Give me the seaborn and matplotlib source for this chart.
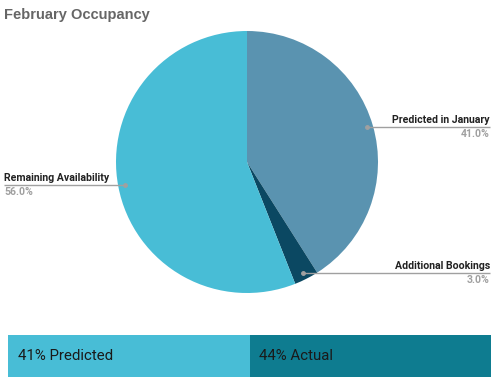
import numpy as np
import matplotlib
matplotlib.use("Agg")
import matplotlib.pyplot as plt
import seaborn as sns

title = "February Occupancy"
categories = ["Predicted in January", "Additional Bookings", "Remaining Availability"]
values = [41.0, 3.0, 56.0]
colors = ["#5A93B0", "#0B4862", "#48BDD6"]
summary_labels = ["41% Predicted", "44% Actual"]
summary_colors = ["#48BDD6", "#0E7C90"]

sns.set_theme(style="white")
plt.rcParams['font.family'] = ['Roboto', 'DejaVu Sans']

W, H = 500, 384
fig = plt.figure(figsize=(W / 100, H / 100), dpi=100)
fig.patch.set_facecolor("white")

ax = fig.add_axes([0, 0, 1, 1])

cx, cy, r = 247, H - 162, 131
wedges, _ = ax.pie(values, colors=colors, startangle=90, counterclock=False,
                   center=(cx, cy), radius=r, wedgeprops=dict(linewidth=0),
                   frame=True)
ax.set_xlim(0, W)
ax.set_ylim(0, H)
ax.set_aspect("equal")
ax.axis("off")

fig.text(4 / W, 1 - 15 / H, title, fontsize=10.5, fontweight="bold",
         color="#666666", va="center", ha="left", family=["Liberation Sans"])

total = sum(values)
cum = 0
sides = ["right", "right", "left"]
for cat, v, side in zip(categories, values, sides):
    mid = 90 - (cum + v / 2) / total * 360
    cum += v
    a = np.deg2rad(mid)
    px = cx + 0.95 * r * np.cos(a)
    py = cy + 0.95 * r * np.sin(a)
    if side == "right":
        x_end = 490
        ha = "right"
    else:
        x_end = 4
        ha = "left"
    ax.plot([px, x_end], [py, py], color="#A0A0A0", lw=1, solid_capstyle="butt")
    ax.plot([px], [py], "o", color="#A0A0A0", ms=2.5)
    ax.text(x_end, py + 2, cat, ha=ha, va="bottom", fontsize=7.55,
            fontweight="bold", color="#222222")
    ax.text(x_end, py - 2, f"{v:.1f}%", ha=ha, va="top", fontsize=7.55,
            fontweight="bold", color="#A0A0A0")

bx = fig.add_axes([8 / W, 7 / H, 483 / W, 42 / H])
bx.barh([0, 0], [1, 1], left=[0, 1], height=1, color=summary_colors,
        linewidth=0)
bx.set_xlim(0, 2)
bx.set_ylim(-0.5, 0.5)
bx.axis("off")
for i, lab in enumerate(summary_labels):
    bx.text(i + 0.04, 0, lab, ha="left", va="center", fontsize=10.8,
            color="#1a1a1a")

fig.savefig("out.png", dpi=100, facecolor="white")
